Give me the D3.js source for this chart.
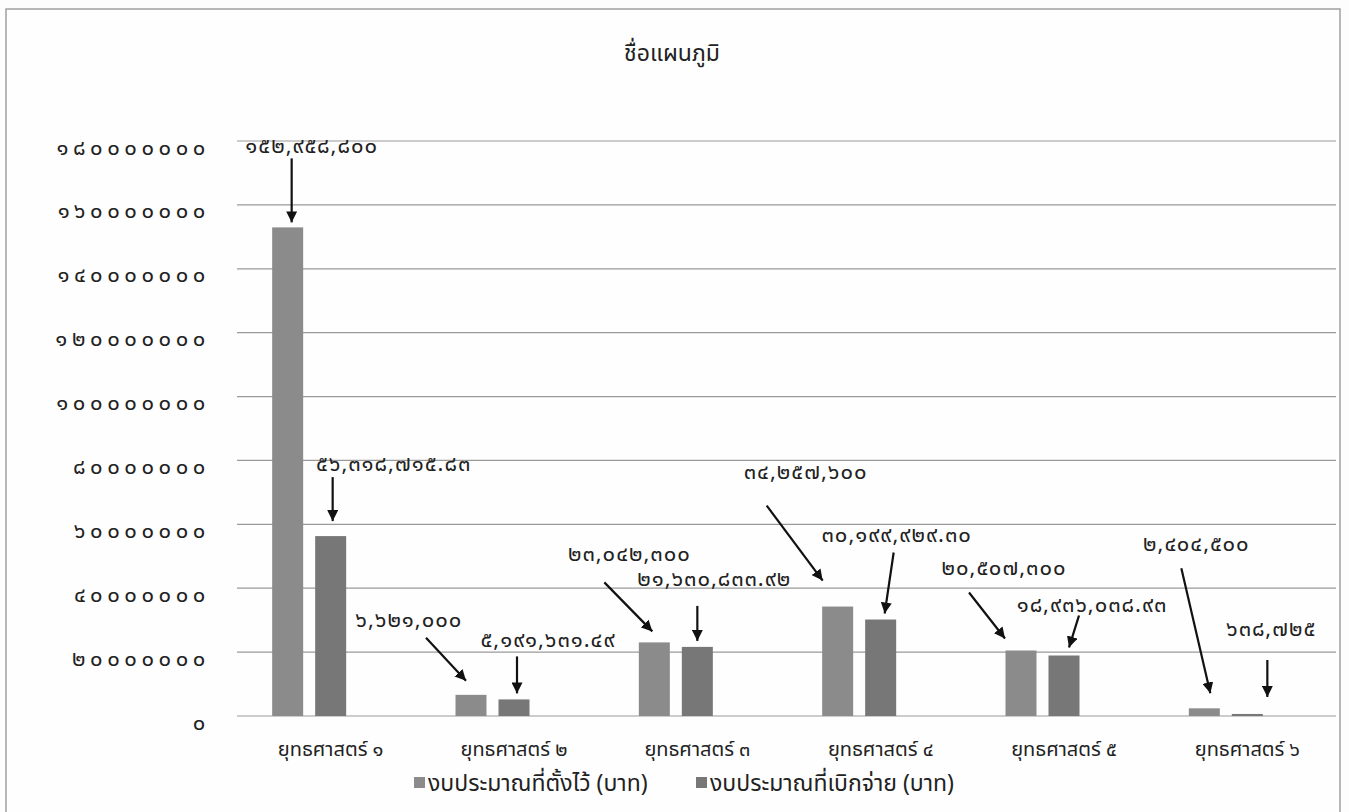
<!DOCTYPE html>
<html>
<head>
<meta charset="utf-8">
<script src="https://cdn.jsdelivr.net/npm/d3@7"></script>
<style>
  html, body { margin: 0; padding: 0; background: #fdfdfd; }
  svg { display: block; }
  text { font-family: "Noto Sans Thai", "Noto Sans", "DejaVu Sans", sans-serif; fill: #222; }
</style>
</head>
<body>
<svg id="chart" width="1349" height="812"></svg>
<script>
// ---- data ----
const title = "ชื่อแผนภูมิ";
const categories = ["ยุทธศาสตร์ ๑", "ยุทธศาสตร์ ๒", "ยุทธศาสตร์ ๓", "ยุทธศาสตร์ ๔", "ยุทธศาสตร์ ๕", "ยุทธศาสตร์ ๖"];
const seriesNames = ["งบประมาณที่ตั้งไว้ (บาท)", "งบประมาณที่เบิกจ่าย (บาท)"];
const budgetSet = [152958800, 6621000, 23042300, 34257600, 20507300, 2404500];
const budgetSpent = [56318715.83, 5191631.49, 21630833.92, 30199929.30, 18936038.93, 638725];
const yTicks = [0, 20000000, 40000000, 60000000, 80000000, 100000000, 120000000, 140000000, 160000000, 180000000];
const setLabels = ["๑๕๒,๙๕๘,๘๐๐", "๖,๖๒๑,๐๐๐", "๒๓,๐๔๒,๓๐๐", "๓๔,๒๕๗,๖๐๐", "๒๐,๕๐๗,๓๐๐", "๒,๔๐๔,๕๐๐"];
const spentLabels = ["๕๖,๓๑๘,๗๑๕.๘๓", "๕,๑๙๑,๖๓๑.๔๙", "๒๑,๖๓๐,๘๓๓.๙๒", "๓๐,๑๙๙,๙๒๙.๓๐", "๑๘,๙๓๖,๐๓๘.๙๓", "๖๓๘,๗๒๕"];

// ---- layout / styles ----
const colors = ["#8b8b8b", "#777777"];
const FONT = '"Noto Sans Thai", "Noto Sans", "DejaVu Sans", sans-serif';
// annotation offsets per [series][category]: tip offset from bar top-centre, tail offset from tip, text centre offset from tip
const annLayout = [
  [ {tip:[4,-5],  tail:[0,-64],  txt:[20,-75]},
    {tip:[-5,-14],tail:[-40,-43],txt:[-57,-60]},
    {tip:[-2,-11],tail:[-48,-49],txt:[-23,-77]},
    {tip:[-15,-26],tail:[-56,-75],txt:[-17,-108]},
    {tip:[-16,-12],tail:[-36,-46],txt:[-1,-70]},
    {tip:[6,-15], tail:[-29,-125],txt:[-14,-148]} ],
  [ {tip:[2,-15], tail:[0,-44],  txt:[61,-56]},
    {tip:[3,-6],  tail:[0,-37],  txt:[31,-53]},
    {tip:[0,-6],  tail:[0,-35],  txt:[17,-61]},
    {tip:[4,-6],  tail:[9,-61],  txt:[12,-78]},
    {tip:[5,-8],  tail:[10,-32], txt:[23,-42]},
    {tip:[20,-17],tail:[0,-37],  txt:[4,-67]} ]
];

const svg = d3.select("#chart");

svg.append("rect").attr("x", 6).attr("y", 9).attr("width", 1334).attr("height", 810)
  .attr("fill", "#fefefe").attr("stroke", "#a0a0a0").attr("stroke-width", 1.5);

const plot = {left: 237, right: 1336, top: 141, bottom: 716};

const x = d3.scaleBand().domain(categories).range([239, 1339]).paddingInner(0).paddingOuter(0);
const step = x.step();
// each category group holds three column slots (the third is empty in the source chart)
const barW = 31, barGap = 12, slots = 3;
const groupW = slots * barW + (slots - 1) * barGap;
const x1 = d3.scaleBand().domain(d3.range(slots))
  .range([(step - groupW) / 2, (step + groupW) / 2])
  .paddingInner(barGap / (barW + barGap)).paddingOuter(0);
const y = d3.scaleLinear().domain([0, 180000000]).range([plot.bottom, plot.top]);

// gridlines
svg.append("g").selectAll("line").data(yTicks).join("line")
  .attr("x1", plot.left).attr("x2", plot.right)
  .attr("y1", d => y(d)).attr("y2", d => y(d))
  .attr("stroke", "#9a9a9a").attr("stroke-width", 1.2);

// y axis labels
const thaiDigits = "๐๑๒๓๔๕๖๗๘๙";
const toThai = s => String(s).replace(/[0-9]/g, c => thaiDigits[+c]);
const yAxis = d3.axisLeft(y).tickValues(yTicks).tickSize(0).tickPadding(0).tickFormat(d => toThai(d));
const gy = svg.append("g").attr("transform", `translate(210,6)`).call(yAxis);
gy.select(".domain").remove();
gy.selectAll("text").attr("font-size", 22).attr("fill", "#222")
  .style("letter-spacing", "4.6px").style("font-family", FONT);

// bars
const series = [budgetSet, budgetSpent];
const barData = [];
series.forEach((vals, s) => vals.forEach((v, i) => barData.push({s, i, v})));
svg.append("g").selectAll("rect").data(barData).join("rect")
  .attr("x", d => x(categories[d.i]) + x1(d.s))
  .attr("width", x1.bandwidth())
  .attr("y", d => y(d.v))
  .attr("height", d => y(0) - y(d.v))
  .attr("fill", d => colors[d.s]);

// x axis labels
const xAxis = d3.axisBottom(x).tickSize(0).tickPadding(0);
const gx = svg.append("g").attr("transform", `translate(0,742)`).call(xAxis);
gx.select(".domain").remove();
gx.selectAll("text").attr("font-size", 20).attr("fill", "#222").style("font-family", FONT);

// title
svg.append("text").attr("x", 672).attr("y", 61).attr("text-anchor", "middle")
  .attr("font-size", 23).text(title);

// legend
const legendX = [414, 696];
const lg = svg.append("g");
seriesNames.forEach((n, s) => {
  lg.append("rect").attr("x", legendX[s]).attr("y", 777).attr("width", 11).attr("height", 11).attr("fill", colors[s]);
  lg.append("text").attr("x", legendX[s] + 14).attr("y", 791).attr("font-size", 23).text(n);
});

// annotations
svg.append("defs").append("marker").attr("id", "ah").attr("viewBox", "0 0 10 10")
  .attr("refX", 10).attr("refY", 5).attr("markerWidth", 5).attr("markerHeight", 5)
  .attr("markerUnits", "strokeWidth").attr("orient", "auto")
  .append("path").attr("d", "M0,0 L10,5 L0,10 z").attr("fill", "#111");

const labels = [setLabels, spentLabels];
const annData = [];
series.forEach((vals, s) => vals.forEach((v, i) => {
  const L = annLayout[s][i];
  const cx = x(categories[i]) + x1(s) + x1.bandwidth() / 2 + L.tip[0];
  const cy = y(v) + L.tip[1];
  annData.push({tx: cx, ty: cy, sx: cx + L.tail[0], sy: cy + L.tail[1], lx: cx + L.txt[0], ly: cy + L.txt[1], text: labels[s][i]});
}));
const ag = svg.append("g");
ag.selectAll("line").data(annData).join("line")
  .attr("x1", d => d.sx).attr("y1", d => d.sy).attr("x2", d => d.tx).attr("y2", d => d.ty)
  .attr("stroke", "#111").attr("stroke-width", 2.2).attr("marker-end", "url(#ah)");
ag.selectAll("text").data(annData).join("text")
  .attr("x", d => d.lx).attr("y", d => d.ly).attr("text-anchor", "middle").attr("dominant-baseline", "middle")
  .attr("font-size", 22).style("letter-spacing", "1px").text(d => d.text);
</script>
</body>
</html>
